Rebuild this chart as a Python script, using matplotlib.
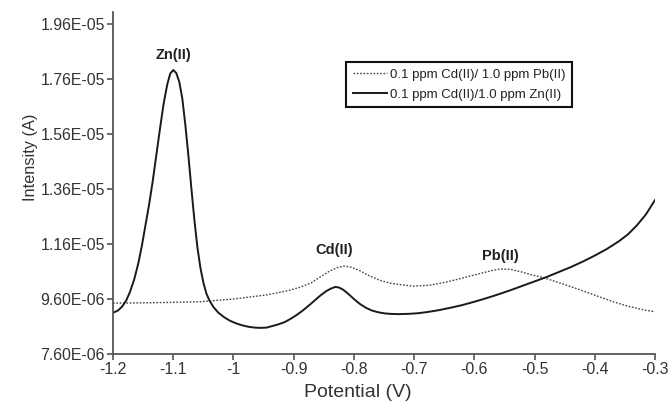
import numpy as np
import matplotlib.pyplot as plt

plt.rcParams['font.family'] = ['Liberation Sans', 'DejaVu Sans']

# solid curve: 0.1 ppm Cd(II)/1.0 ppm Zn(II)  (potential V, intensity 1e-6 A)
zn_x = [-1.200, -1.192, -1.185, -1.178, -1.172, -1.165, -1.158, -1.152, -1.146,
        -1.140, -1.134, -1.128, -1.122, -1.116, -1.110, -1.105, -1.100, -1.095,
        -1.090, -1.085, -1.080, -1.075, -1.070, -1.065, -1.060, -1.055, -1.050,
        -1.045, -1.040, -1.033, -1.025, -1.015, -1.005, -0.995, -0.985, -0.975,
        -0.965, -0.955, -0.945, -0.935, -0.925, -0.915, -0.905, -0.895, -0.885,
        -0.875, -0.865, -0.855, -0.845, -0.838, -0.831, -0.825, -0.818, -0.810,
        -0.800, -0.790, -0.780, -0.770, -0.760, -0.750, -0.740, -0.725, -0.710,
        -0.695, -0.680, -0.660, -0.640, -0.620, -0.600, -0.580, -0.560, -0.540,
        -0.520, -0.500, -0.480, -0.460, -0.440, -0.420, -0.400, -0.380, -0.360,
        -0.345, -0.330, -0.315, -0.300]
zn_y = [9.10, 9.18, 9.32, 9.55, 9.85, 10.30, 10.90, 11.55, 12.30,
        13.05, 13.90, 14.85, 15.80, 16.70, 17.40, 17.80, 17.93, 17.82,
        17.50, 16.90, 15.95, 14.85, 13.65, 12.50, 11.50, 10.75, 10.20,
        9.80, 9.55, 9.30, 9.10, 8.93, 8.80, 8.71, 8.64, 8.59,
        8.56, 8.55, 8.56, 8.62, 8.68, 8.76, 8.88, 9.02, 9.18,
        9.36, 9.55, 9.74, 9.90, 9.98, 10.04, 10.02, 9.94, 9.80,
        9.60, 9.42, 9.28, 9.18, 9.12, 9.08, 9.06, 9.05, 9.06,
        9.08, 9.12, 9.19, 9.28, 9.38, 9.50, 9.63, 9.77, 9.92,
        10.08, 10.24, 10.40, 10.58, 10.76, 10.96, 11.18, 11.42, 11.70,
        11.95, 12.28, 12.68, 13.20]

# dotted curve: 0.1 ppm Cd(II)/ 1.0 ppm Pb(II)
pb_x = [-1.200, -1.150, -1.100, -1.056, -1.000, -0.945, -0.910, -0.889, -0.870,
        -0.856, -0.840, -0.828, -0.817, -0.805, -0.790, -0.775, -0.757, -0.740,
        -0.723, -0.701, -0.675, -0.646, -0.620, -0.590, -0.570, -0.557, -0.540,
        -0.524, -0.505, -0.485, -0.455, -0.424, -0.395, -0.369, -0.350, -0.330,
        -0.315, -0.300]
pb_y = [9.45, 9.46, 9.48, 9.50, 9.60, 9.75, 9.90, 10.03, 10.20,
        10.40, 10.62, 10.74, 10.80, 10.76, 10.63, 10.45, 10.28, 10.18,
        10.12, 10.07, 10.10, 10.22, 10.36, 10.53, 10.64, 10.69, 10.68,
        10.60, 10.48, 10.38, 10.16, 9.93, 9.70, 9.50, 9.37, 9.26,
        9.19, 9.14]

peak_labels = ['Zn(II)', 'Cd(II)', 'Pb(II)']
peak_x = [-1.100, -0.833, -0.557]
peak_y = [18.47, 11.38, 11.16]

xticks = [-1.2, -1.1, -1.0, -0.9, -0.8, -0.7, -0.6, -0.5, -0.4, -0.3]
xtick_labels = ['-1.2', '-1.1', '-1', '-0.9', '-0.8', '-0.7', '-0.6', '-0.5', '-0.4', '-0.3']
yticks = [7.60e-06, 9.60e-06, 1.16e-05, 1.36e-05, 1.56e-05, 1.76e-05, 1.96e-05]
ytick_labels = ['7.60E-06', '9.60E-06', '1.16E-05', '1.36E-05', '1.56E-05', '1.76E-05', '1.96E-05']

fig = plt.figure(figsize=(6.7, 4.03), dpi=100)
ax = fig.add_axes([0.1687, 0.1216, 0.8089, 0.8486])

ax.plot(pb_x, np.array(pb_y) * 1e-6, linestyle=(0, (1.2, 1.2)), color='#444444',
        linewidth=1.0, label='0.1 ppm Cd(II)/ 1.0 ppm Pb(II)')
ax.plot(zn_x, np.array(zn_y) * 1e-6, linestyle='-', color='#1a1a1a',
        linewidth=1.4, label='0.1 ppm Cd(II)/1.0 ppm Zn(II)')

for lab, px, py in zip(peak_labels, peak_x, peak_y):
    ax.text(px, py * 1e-6, lab, ha='center', va='center', fontsize=10.5,
            fontweight='bold', color='#222222')

ax.set_xlim(-1.2, -0.3)
ax.set_ylim(7.60e-06, 2.004e-05)
ax.set_xticks(xticks)
ax.set_xticklabels(xtick_labels)
ax.set_yticks(yticks)
ax.set_yticklabels(ytick_labels)

for s in ['top', 'right']:
    ax.spines[s].set_visible(False)
for s in ['left', 'bottom']:
    ax.spines[s].set_color('#555555')
    ax.spines[s].set_linewidth(1.3)
ax.tick_params(direction='out', length=4, width=1.2, color='#555555',
               labelsize=11.4, labelcolor='#333333', pad=2)

ax.set_xlabel('Potential (V)', fontsize=14, color='#333333')
ax.xaxis.set_label_coords(0.452, -0.087)
ax.set_ylabel('Intensity (A)', fontsize=11.8, color='#333333')
ax.yaxis.set_label_coords(-0.138, 0.576)

leg = ax.legend(loc='upper left', bbox_to_anchor=(0.43, 0.854), borderaxespad=0,
                fontsize=9.5, handlelength=2.6, handletextpad=0.2, labelspacing=0.58,
                borderpad=0.5, fancybox=False, framealpha=1)
leg.get_frame().set_edgecolor('#111111')
leg.get_frame().set_linewidth(1.5)
for t in leg.get_texts():
    t.set_color('#222222')

fig.savefig('out.png', dpi=100)
